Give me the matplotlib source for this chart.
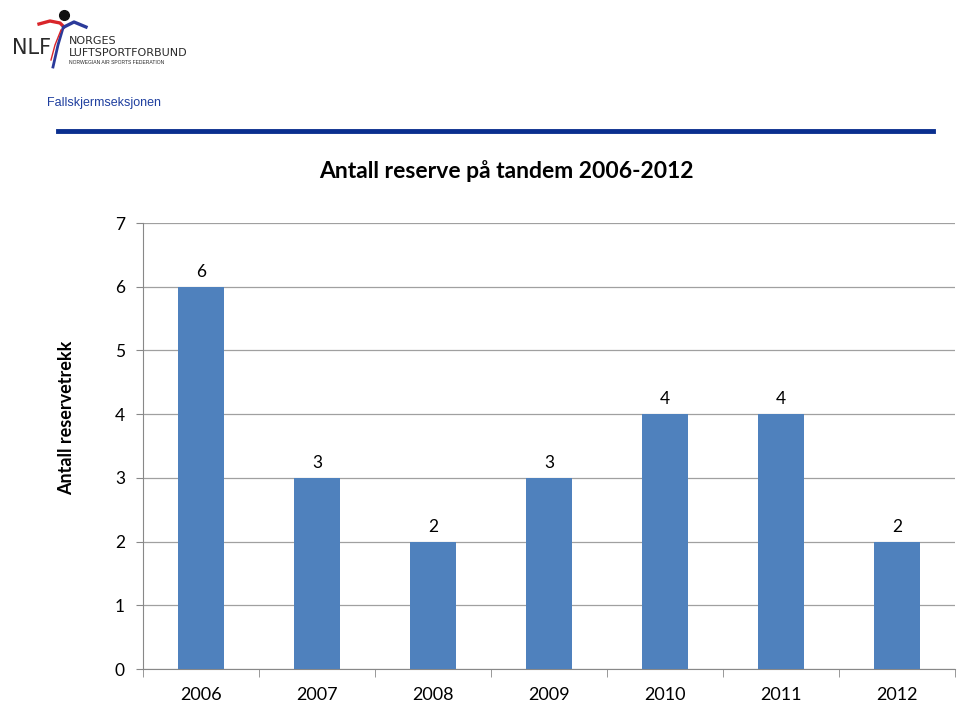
import matplotlib
matplotlib.use("Agg")
import matplotlib.pyplot as plt
from matplotlib.lines import Line2D

years = ["2006", "2007", "2008", "2009", "2010", "2011", "2012"]
counts = [6, 3, 2, 3, 4, 4, 2]
yticks = [0, 1, 2, 3, 4, 5, 6, 7]

FONT = ["Lato", "DejaVu Sans"]

W, H = 959, 703
fig = plt.figure(figsize=(W / 100, H / 100), dpi=100)
fig.patch.set_facecolor("white")

def fx(px):
    return px / W

def fy(py):
    return 1 - py / H

# Header: logo
fig.text(fx(12), fy(48), "NLF", fontsize=15, color="#2a2a2a", family="Liberation Sans Narrow",
         va="center", ha="left")
fig.text(fx(69), fy(41), "NORGES", fontsize=8, color="#2a2a2a", family="Liberation Sans Narrow",
         va="center", ha="left")
fig.text(fx(69), fy(53), "LUFTSPORTFORBUND", fontsize=8, color="#2a2a2a", family="Liberation Sans Narrow",
         va="center", ha="left")
fig.text(fx(69), fy(62.5), "NORWEGIAN AIR SPORTS FEDERATION", fontsize=3.6, color="#2a2a2a",
         family="Liberation Sans", va="center", ha="left")
# swoosh figure
fig.add_artist(Line2D([fx(39), fx(50), fx(60), fx(64)], [fy(24), fy(21), fy(23), fy(27)],
                      color="#d9252a", lw=2.4))
fig.add_artist(Line2D([fx(64), fx(74), fx(86)], [fy(27), fy(22), fy(27)], color="#2b3a9a", lw=2.4))
fig.add_artist(Line2D([fx(63), fx(58), fx(53)], [fy(28), fy(45), fy(67)], color="#2b3a9a", lw=2.0))
fig.add_artist(Line2D([fx(61), fx(55), fx(51)], [fy(30), fy(45), fy(60)], color="#d9252a", lw=1.0))
fig.add_artist(Line2D([fx(64)], [fy(15)], marker="o", ms=7, color="#111111"))

fig.text(fx(47), fy(103), "Fallskjermseksjonen", fontsize=9, color="#1f3f9f",
         family="Liberation Sans", va="center", ha="left")
fig.add_artist(Line2D([fx(58), fx(933)], [fy(131), fy(131)], color="#0a2f8f", lw=3.5))

# Title
fig.text(fx(506), fy(171), "Antall reserve på tandem 2006-2012", fontsize=16.5, fontweight="bold",
         family=FONT, ha="center", va="center")

ax = fig.add_axes([fx(143), fy(669), fx(955) - fx(143), fy(223) - fy(669)])
x = list(range(len(years)))
ax.bar(x, counts, width=0.4, color="#4f81bd", zorder=3)
for xi, v in zip(x, counts):
    ax.text(xi, v + 0.11, str(v), ha="center", va="bottom", fontsize=12.5, family=FONT)

ax.set_xlim(-0.5, len(years) - 0.5)
ax.set_ylim(0, 7)
ax.set_yticks(yticks)
ax.set_yticklabels([str(t) for t in yticks], fontsize=12.5, family=FONT)
ax.yaxis.grid(True, color="#a0a0a0", lw=0.9, zorder=0)
ax.set_axisbelow(True)

ax.set_xticks(x)
ax.set_xticklabels(years, fontsize=13, family=FONT)
ax.tick_params(axis="x", length=0, pad=13)
ax.set_xticks([i - 0.5 for i in range(len(years) + 1)], minor=True)
ax.tick_params(axis="x", which="minor", length=6, color="#888888", direction="out")
ax.tick_params(axis="y", length=5, color="#888888", direction="out", pad=8)

for s in ["top", "right"]:
    ax.spines[s].set_visible(False)
ax.spines["left"].set_color("#888888")
ax.spines["bottom"].set_color("#888888")

fig.text(fx(67), fy(418), "Antall reservetrekk", fontsize=13, fontweight="bold", family=FONT,
         rotation=90, ha="center", va="center")

fig.savefig("out.png", dpi=100)
